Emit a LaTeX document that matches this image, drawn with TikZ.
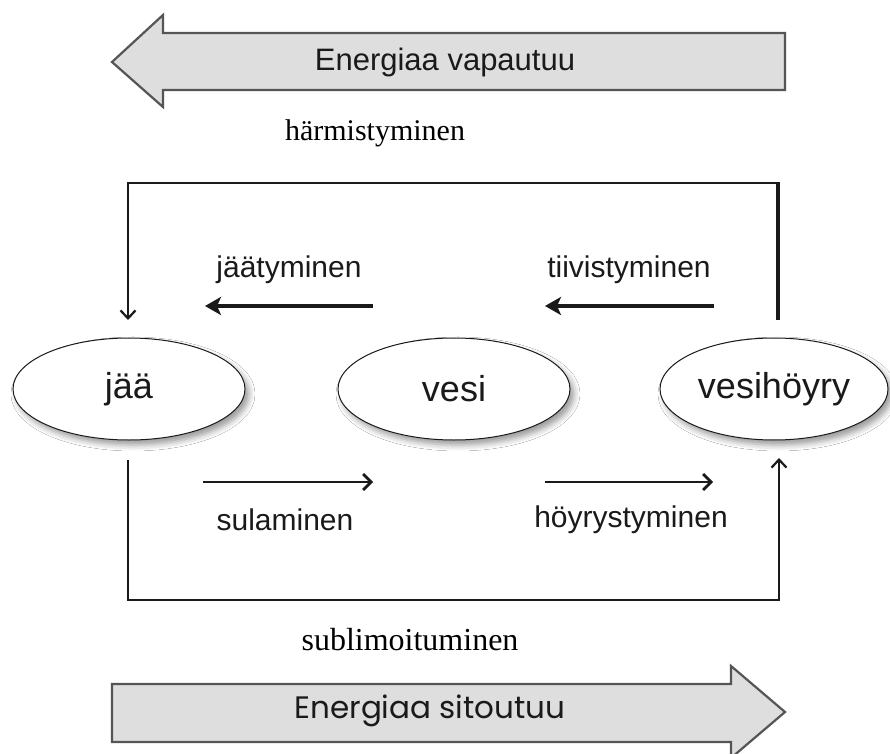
\documentclass[tikz,border=0pt]{standalone}
\usepackage{fontspec}
\setmainfont{Liberation Serif}
\setsansfont{Liberation Sans}
\newfontfamily\geofont{Poppins}
\usetikzlibrary{arrows.meta,shadows.blur,shapes.geometric}
\definecolor{ink}{HTML}{1A1A1A}
\definecolor{arrfill}{HTML}{DEDEDE}
\definecolor{arrline}{HTML}{555555}
\tikzset{
  bigarrow/.style={fill=arrfill, draw=arrline, line width=2.2pt, line join=miter},
  state/.style={ellipse, draw=ink, line width=1pt, fill=white, minimum width=232pt, minimum height=102pt,
    inner sep=0pt, font=\sffamily\fontsize{36}{40}\selectfont, text=ink,
    blur shadow={shadow xshift=4pt, shadow yshift=-5pt, shadow blur radius=6pt, shadow opacity=40}},
  proclabel/.style={font=\sffamily\fontsize{30}{34}\selectfont, text=ink, inner sep=0pt},
  seriflabel/.style={font=\rmfamily\fontsize{30}{34}\selectfont, text=black, inner sep=0pt},
  thickarr/.style={draw=ink, line width=4.5pt, -{Stealth[length=16pt,width=18pt,inset=4pt]}},
  thinarr/.style={draw=ink, line width=2.8pt, -{Straight Barb[length=8pt,width=16pt,line width=2.8pt]}},
  loopline/.style={draw=ink, line width=2.8pt},
  looparr/.style={draw=ink, line width=2.2pt, -{Straight Barb[length=8pt,width=15pt,line width=2.2pt]}},
}
\begin{document}
\begin{tikzpicture}[x=1pt,y=1pt]
\useasboundingbox (0,0) rectangle (890,753);
\fill[white] (0,0) rectangle (890,753);

% top energy arrow
\draw[bigarrow] (112,691) -- (163,738) -- (163,720) -- (785,720) -- (785,663) -- (163,663) -- (163,646) -- cycle;
\node[font=\sffamily\fontsize{31}{34}\selectfont, text=ink, inner sep=0pt] (vap) at (445,691) {Energiaa vapautuu};

% bottom energy arrow
\draw[bigarrow] (112,69) -- (731,69) -- (731,87) -- (785,41) -- (731,-5) -- (731,11) -- (112,11) -- cycle;
\node[font=\geofont\fontsize{31}{34}\selectfont, text=ink, inner sep=0pt] (sit) at (430,42) {Energiaa sitoutuu};

% states
\node[state] (jaa) at (129,364) {jää};
\node[state] (vesi) at (454,364) {vesi};
\node[state, minimum width=228pt] (hoyry) at (774,364) {vesihöyry};

% serif labels
\node[seriflabel] (harm) at (375,620) {härmistyminen};
\node[seriflabel, font=\rmfamily\fontsize{32}{36}\selectfont] (subl) at (410,113) {sublimoituminen};

% top loop (härmistyminen)
\coordinate (t1) at (778,433);
\coordinate (t2) at (778,570);
\coordinate (t3) at (128,570);
\coordinate (t4) at (128,433);
\draw[draw=ink, line width=4pt] (t1) -- ([yshift=1.4pt]t2);
\draw[loopline] (t2) -- ([xshift=-1pt]t3);
\draw[looparr] ([yshift=1.4pt]t3) -- (t4);

% bottom loop (sublimoituminen)
\coordinate (b1) at (128,293);
\coordinate (b2) at (128,153);
\coordinate (b3) at (779,153);
\coordinate (b4) at (779,295);
\draw[loopline, line join=miter] (b1) -- (b2) -- ([xshift=1pt]b3);
\draw[looparr] ([yshift=-1.4pt]b3) -- (b4);

% process arrows
\coordinate (ja1) at (373,447); \coordinate (ja2) at (205,447);
\coordinate (ti1) at (714,447); \coordinate (ti2) at (545,447);
\coordinate (su1) at (203,271); \coordinate (su2) at (373,271);
\coordinate (ho1) at (545,271); \coordinate (ho2) at (713,271);
\draw[thickarr] (ja1) -- (ja2);
\draw[thickarr] (ti1) -- (ti2);
\draw[thinarr] (su1) -- (su2);
\draw[thinarr] (ho1) -- (ho2);

\node[proclabel] (lja) at (289,483) {jäätyminen};
\node[proclabel] (lti) at (629,483) {tiivistyminen};
\node[proclabel] (lsu) at (285,233) {sulaminen};
\node[proclabel] (lho) at (631,233) {höyrystyminen};
\end{tikzpicture}
\end{document}
